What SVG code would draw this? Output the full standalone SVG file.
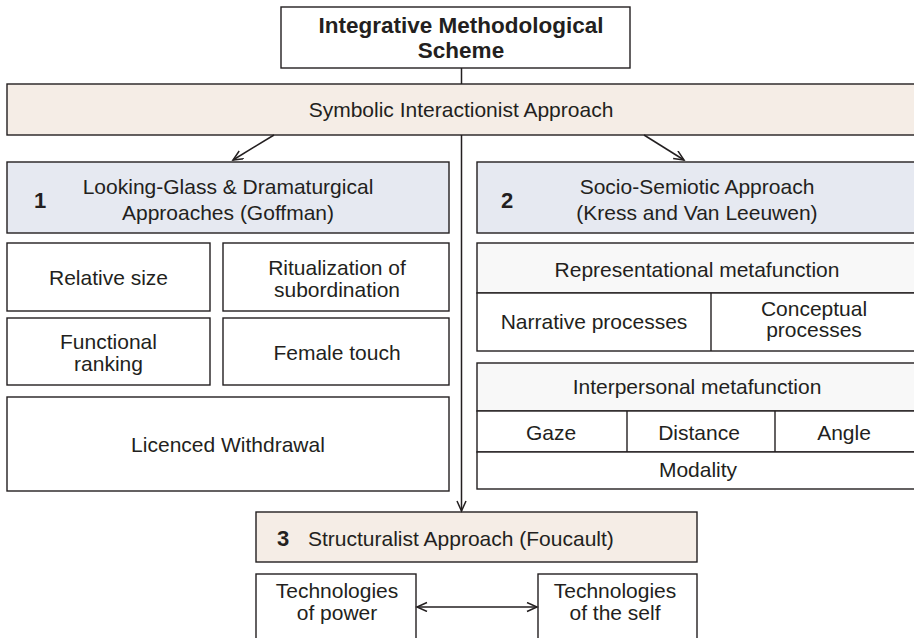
<svg xmlns="http://www.w3.org/2000/svg" width="914" height="638" viewBox="0 0 914 638">
  <defs>
    <marker id="arr" markerUnits="userSpaceOnUse" markerWidth="14" markerHeight="12" refX="11" refY="5" orient="auto-start-reverse" viewBox="0 0 14 12">
      <path d="M1,0.5 L11,5 L1,9.5" fill="none" stroke="#231f20" stroke-width="1.5"/>
    </marker>
  </defs>
  <style>
    .box { fill: #ffffff; stroke: #231f20; stroke-width: 1.4; }
    .band { fill: #f5ede6; stroke: #231f20; stroke-width: 1.4; }
    .blue { fill: #e6e9f1; stroke: #231f20; stroke-width: 1.4; }
    .head { fill: #f8f8f8; stroke: #231f20; stroke-width: 1.4; }
    .div { stroke: #231f20; stroke-width: 1.4; fill: none; }
    .t { font-family: "Liberation Sans", Arial, sans-serif; font-size: 21px; fill: #231f20; text-anchor: middle; }
    .num { font-family: "Liberation Sans", Arial, sans-serif; font-size: 22px; font-weight: bold; fill: #231f20; text-anchor: middle; }
    .title { font-family: "Liberation Sans", Arial, sans-serif; font-size: 22.5px; font-weight: bold; fill: #231f20; text-anchor: middle; }
    .conn { stroke: #231f20; stroke-width: 1.5; fill: none; }
  </style>
  <rect width="914" height="638" fill="#ffffff"/>

  <g id="title">
    <rect class="box" x="281" y="7" width="349" height="61"/>
    <text class="title" x="461" y="33">Integrative Methodological</text>
    <text class="title" x="461" y="58">Scheme</text>
  </g>

  <g id="symbolic">
    <rect class="band" x="7" y="84" width="912" height="51"/>
    <text class="t" x="461" y="117">Symbolic Interactionist Approach</text>
  </g>

  <g id="node1">
    <rect class="blue" x="7" y="162" width="442" height="71"/>
    <text class="num" x="40" y="208">1</text>
    <text class="t" x="228" y="194">Looking-Glass &amp; Dramaturgical</text>
    <text class="t" x="228" y="220">Approaches (Goffman)</text>
  </g>

  <g id="node2">
    <rect class="blue" x="477" y="162" width="442" height="71"/>
    <text class="num" x="507" y="208">2</text>
    <text class="t" x="697" y="194">Socio-Semiotic Approach</text>
    <text class="t" x="697" y="220">(Kress and Van Leeuwen)</text>
  </g>

  <g id="relative-size">
    <rect class="box" x="7" y="243" width="203" height="68"/>
    <text class="t" x="108.5" y="285">Relative size</text>
  </g>
  <g id="ritualization">
    <rect class="box" x="223" y="243" width="226" height="68"/>
    <text class="t" x="337" y="275">Ritualization of</text>
    <text class="t" x="337" y="297">subordination</text>
  </g>
  <g id="functional-ranking">
    <rect class="box" x="7" y="318" width="203" height="67"/>
    <text class="t" x="108.5" y="349">Functional</text>
    <text class="t" x="108.5" y="371">ranking</text>
  </g>
  <g id="female-touch">
    <rect class="box" x="223" y="318" width="226" height="67"/>
    <text class="t" x="337" y="360">Female touch</text>
  </g>
  <g id="licenced-withdrawal">
    <rect class="box" x="7" y="397" width="442" height="94"/>
    <text class="t" x="228" y="452">Licenced Withdrawal</text>
  </g>

  <g id="representational">
    <rect class="head" x="477" y="243" width="442" height="50"/>
    <text class="t" x="697" y="277">Representational metafunction</text>
    <rect class="box" x="477" y="293" width="442" height="58"/>
    <line class="div" x1="711" y1="293" x2="711" y2="351"/>
    <text class="t" x="594" y="329">Narrative processes</text>
    <text class="t" x="814" y="316">Conceptual</text>
    <text class="t" x="814" y="337">processes</text>
  </g>

  <g id="interpersonal">
    <rect class="head" x="477" y="363" width="442" height="48"/>
    <text class="t" x="697" y="394">Interpersonal metafunction</text>
    <rect class="box" x="477" y="411" width="442" height="41"/>
    <line class="div" x1="627" y1="411" x2="627" y2="452"/>
    <line class="div" x1="775" y1="411" x2="775" y2="452"/>
    <text class="t" x="551" y="440">Gaze</text>
    <text class="t" x="699" y="440">Distance</text>
    <text class="t" x="844" y="440">Angle</text>
    <rect class="box" x="477" y="452" width="442" height="37"/>
    <text class="t" x="698" y="477">Modality</text>
  </g>

  <g id="node3">
    <rect class="band" x="256" y="512" width="441" height="50"/>
    <text class="num" x="283" y="546">3</text>
    <text class="t" x="308" y="546" style="text-anchor:start">Structuralist Approach (Foucault)</text>
  </g>

  <g id="tech-power">
    <rect class="box" x="256" y="574" width="160" height="74"/>
    <text class="t" x="337" y="598">Technologies</text>
    <text class="t" x="337" y="620">of power</text>
  </g>
  <g id="tech-self">
    <rect class="box" x="538" y="574" width="159" height="74"/>
    <text class="t" x="615" y="598">Technologies</text>
    <text class="t" x="615" y="620">of the self</text>
  </g>

  <g id="connectors">
    <line class="conn" x1="461.5" y1="68" x2="461.5" y2="84"/>
    <line class="conn" x1="461.5" y1="135" x2="461.5" y2="511" marker-end="url(#arr)"/>
    <line class="conn" x1="274" y1="135" x2="233" y2="160" marker-end="url(#arr)"/>
    <line class="conn" x1="644" y1="135" x2="684" y2="160" marker-end="url(#arr)"/>
    <line class="conn" x1="417" y1="607" x2="537" y2="607" marker-start="url(#arr)" marker-end="url(#arr)"/>
  </g>
</svg>
